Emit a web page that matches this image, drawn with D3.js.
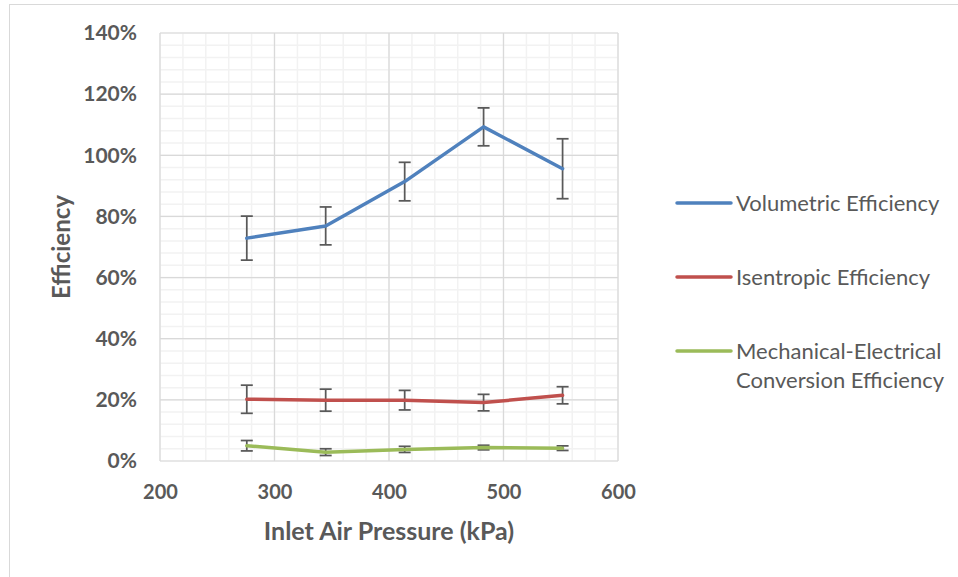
<!DOCTYPE html>
<html>
<head>
<meta charset="utf-8">
<script src="https://cdn.jsdelivr.net/npm/d3@7"></script>
<style>
  body { margin: 0; background: #fff; }
  svg { display: block; }
</style>
</head>
<body>
<svg id="chart" width="958" height="577"></svg>
<script>
// pressures (kPa) - 40..80 psi
const pressure = [275.8, 344.7, 413.7, 482.6, 551.6];

// efficiencies in %, and +/- error
const volumetric = [72.9, 76.9, 91.4, 109.3, 95.6];
const volumetricErr = [7.2, 6.2, 6.3, 6.2, 9.8];
const isentropic = [20.2, 19.9, 19.9, 19.1, 21.5];
const isentropicErr = [4.6, 3.6, 3.2, 2.7, 2.8];
const mechanical = [5.0, 2.9, 3.8, 4.4, 4.2];
const mechanicalErr = [1.7, 1.1, 1.0, 0.75, 0.75];

const seriesNames = ['Volumetric Efficiency', 'Isentropic Efficiency', 'Mechanical-Electrical Conversion Efficiency'];
const xTicks = [200, 300, 400, 500, 600];
const yTicks = [0, 20, 40, 60, 80, 100, 120, 140];

const series = [
  { name: seriesNames[0], values: volumetric, err: volumetricErr, color: '#4F81BD' },
  { name: seriesNames[1], values: isentropic, err: isentropicErr, color: '#C0504D' },
  { name: seriesNames[2], values: mechanical, err: mechanicalErr, color: '#9BBB59' }
];

const svg = d3.select('#chart');
const font = 'Lato, "Open Sans", sans-serif';
const grey = '#595959';

// chart frame
svg.append('rect')
  .attr('x', 9.5).attr('y', 4.5)
  .attr('width', 960).attr('height', 580)
  .attr('fill', 'none')
  .attr('stroke', '#d9d9d9');

const margin = { left: 160, top: 33, right: 618, bottom: 461 };

const x = d3.scaleLinear().domain([200, 600]).range([margin.left, margin.right]);
const y = d3.scaleLinear().domain([0, 140]).range([margin.bottom, margin.top]);

// minor grid
const g = svg.append('g');
g.selectAll('.vminor')
  .data(d3.range(200, 601, 20))
  .enter().append('line')
    .attr('x1', d => x(d)).attr('x2', d => x(d))
    .attr('y1', margin.top).attr('y2', margin.bottom)
    .attr('stroke', '#f2f2f2').attr('stroke-width', 1.5);
g.selectAll('.hminor')
  .data(d3.range(0, 141, 4))
  .enter().append('line')
    .attr('x1', margin.left).attr('x2', margin.right)
    .attr('y1', d => y(d)).attr('y2', d => y(d))
    .attr('stroke', '#f2f2f2').attr('stroke-width', 1.5);

// major grid
g.selectAll('.vmajor')
  .data(xTicks)
  .enter().append('line')
    .attr('x1', d => x(d)).attr('x2', d => x(d))
    .attr('y1', margin.top).attr('y2', margin.bottom)
    .attr('stroke', '#d9d9d9').attr('stroke-width', 1.2);
g.selectAll('.hmajor')
  .data(yTicks)
  .enter().append('line')
    .attr('x1', margin.left).attr('x2', margin.right)
    .attr('y1', d => y(d)).attr('y2', d => y(d))
    .attr('stroke', '#d9d9d9').attr('stroke-width', 1.2);

// y axis labels
svg.append('g')
  .attr('transform', `translate(${margin.left},0)`)
  .call(d3.axisLeft(y).tickValues(yTicks).tickSize(0).tickPadding(23).tickFormat(d => d + '%'))
  .call(a => a.select('.domain').remove())
  .selectAll('text')
    .attr('font-family', font)
    .attr('font-size', '21px')
    .attr('font-weight', 'bold')
    .attr('fill', grey);

// x axis labels
svg.append('g')
  .attr('transform', `translate(0,${margin.bottom})`)
  .call(d3.axisBottom(x).tickValues(xTicks).tickSize(0).tickPadding(24))
  .call(a => a.select('.domain').remove())
  .selectAll('text')
    .attr('font-family', font)
    .attr('font-size', '20px')
    .attr('font-weight', 'bold')
    .attr('fill', grey);

// error bars
series.forEach(s => {
  const eg = svg.append('g');
  pressure.forEach((p, i) => {
    const lo = s.values[i] - s.err[i], hi = s.values[i] + s.err[i];
    eg.append('line')
      .attr('x1', x(p)).attr('x2', x(p))
      .attr('y1', y(lo)).attr('y2', y(hi))
      .attr('stroke', grey).attr('stroke-width', 1.75);
    [lo, hi].forEach(v => {
      eg.append('line')
        .attr('x1', x(p) - 6).attr('x2', x(p) + 6)
        .attr('y1', y(v)).attr('y2', y(v))
        .attr('stroke', grey).attr('stroke-width', 1.75);
    });
  });
});

// lines
const line = d3.line().x((d, i) => x(pressure[i])).y(d => y(d));
series.forEach(s => {
  svg.append('path')
    .datum(s.values)
    .attr('d', line)
    .attr('fill', 'none')
    .attr('stroke', s.color)
    .attr('stroke-width', 3.5)
    .attr('stroke-linejoin', 'round')
    .attr('stroke-linecap', 'round');
});

// axis titles
svg.append('text')
  .attr('x', 389).attr('y', 540)
  .attr('text-anchor', 'middle')
  .attr('font-family', font)
  .attr('font-size', '25px')
  .attr('font-weight', 'bold')
  .attr('fill', grey)
  .text('Inlet Air Pressure (kPa)');

svg.append('text')
  .attr('transform', `translate(70,${(margin.top + margin.bottom) / 2}) rotate(-90)`)
  .attr('text-anchor', 'middle')
  .attr('font-family', font)
  .attr('font-size', '24px')
  .attr('font-weight', 'bold')
  .attr('fill', grey)
  .text('Efficiency');

// legend
const legendY = [203, 277, 351];
const legendLines = [['Volumetric Efficiency'], ['Isentropic Efficiency'], ['Mechanical-Electrical', 'Conversion Efficiency']];
series.forEach((s, i) => {
  const lg = svg.append('g').attr('transform', `translate(677,${legendY[i]})`);
  lg.append('line')
    .attr('x1', 0).attr('x2', 54)
    .attr('stroke', s.color).attr('stroke-width', 3.5)
    .attr('stroke-linecap', 'round');
  legendLines[i].forEach((t, j) => {
    lg.append('text')
      .attr('x', 59).attr('y', 8 + j * 29)
      .attr('font-family', font)
      .attr('font-size', '22px')
      .attr('fill', grey)
      .text(t);
  });
});
</script>
</body>
</html>
